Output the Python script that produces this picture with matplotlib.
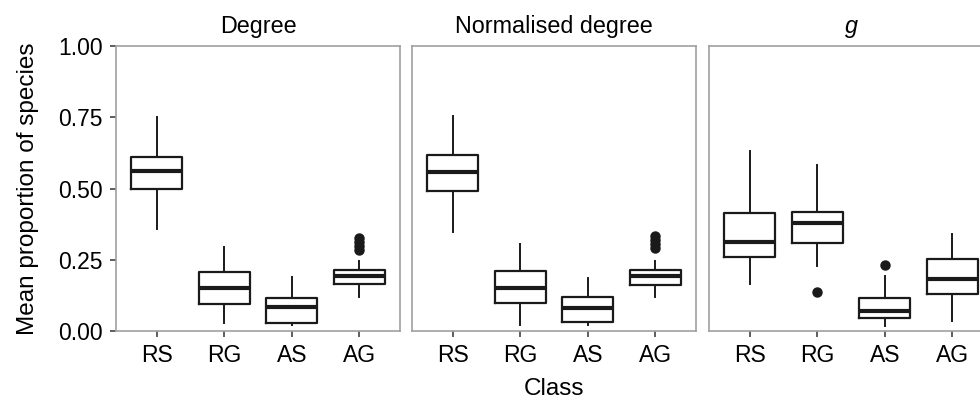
import matplotlib.pyplot as plt

plt.rcParams['font.family'] = ['Liberation Sans', 'DejaVu Sans']

classes = ['RS', 'RG', 'AS', 'AG']
panels = ['Degree', 'Normalised degree', 'g']

# per panel, per class: lower whisker, q1, median, q3, upper whisker
deg_low = [0.358, 0.027, 0.020, 0.120]
deg_q1 = [0.497, 0.096, 0.027, 0.166]
deg_med = [0.561, 0.151, 0.083, 0.194]
deg_q3 = [0.612, 0.206, 0.116, 0.215]
deg_high = [0.750, 0.294, 0.190, 0.244]
deg_out = [[], [], [], [0.325, 0.312, 0.298, 0.285]]

nd_low = [0.349, 0.021, 0.020, 0.120]
nd_q1 = [0.492, 0.099, 0.033, 0.163]
nd_med = [0.558, 0.151, 0.079, 0.194]
nd_q3 = [0.618, 0.209, 0.120, 0.213]
nd_high = [0.756, 0.305, 0.186, 0.244]
nd_out = [[], [], [], [0.334, 0.320, 0.305, 0.290]]

g_low = [0.165, 0.229, 0.017, 0.035]
g_q1 = [0.259, 0.308, 0.044, 0.130]
g_med = [0.314, 0.378, 0.070, 0.183]
g_q3 = [0.415, 0.418, 0.116, 0.253]
g_high = [0.630, 0.581, 0.192, 0.341]
g_out = [[], [0.137], [0.230], []]

panel_data = [
    (deg_low, deg_q1, deg_med, deg_q3, deg_high, deg_out),
    (nd_low, nd_q1, nd_med, nd_q3, nd_high, nd_out),
    (g_low, g_q1, g_med, g_q3, g_high, g_out),
]

ink = '#1a1a1a'
frame = '#a0a0a0'

fig = plt.figure(figsize=(9.8, 4), dpi=100)
lefts = [116 / 980, 412 / 980, 709 / 980]
width = 284 / 980
bottom = 69 / 400
height = 285 / 400

for i, (title, data) in enumerate(zip(panels, panel_data)):
    ax = fig.add_axes([lefts[i], bottom, width, height])
    low, q1, med, q3, high, out = data
    stats = []
    for k in range(len(classes)):
        stats.append(dict(whislo=low[k], q1=q1[k], med=med[k], q3=q3[k],
                          whishi=high[k], fliers=out[k], label=classes[k]))
    ax.bxp(stats, positions=range(1, 5), widths=0.75, showcaps=False,
           boxprops=dict(color=ink, linewidth=1.6),
           whiskerprops=dict(color=ink, linewidth=1.4),
           medianprops=dict(color=ink, linewidth=3.0, solid_capstyle='butt'),
           flierprops=dict(marker='o', markerfacecolor=ink, markeredgecolor=ink,
                           markersize=6.5))
    ax.set_xlim(0.4, 4.6)
    ax.set_ylim(0, 1)
    for s in ax.spines.values():
        s.set_color(frame)
        s.set_linewidth(1.2)
    ax.tick_params(axis='both', colors='#333333', labelcolor='black',
                   labelsize=16.5, length=4.5, width=1.1, pad=5)
    if title == 'g':
        ax.set_title(title, fontsize=16.8, fontstyle='italic', pad=9.5)
    else:
        ax.set_title(title, fontsize=16.8, pad=9.5)
    if i == 0:
        ax.set_yticks([0, 0.25, 0.5, 0.75, 1.0])
        ax.set_yticklabels(['0.00', '0.25', '0.50', '0.75', '1.00'])
        ax.set_ylabel('Mean proportion of species', fontsize=17.5, labelpad=14)
    else:
        ax.set_yticks([])
    if i == 1:
        ax.set_xlabel('Class', fontsize=17.5, labelpad=8)

fig.savefig('out.png', dpi=100)
